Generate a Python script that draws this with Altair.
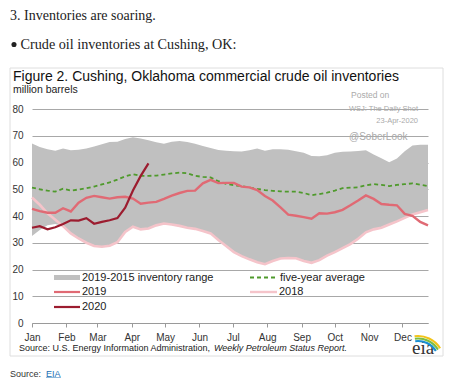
import altair as alt
import pandas as pd

# ---------------- data ----------------
weeks = list(range(52))

band_hi = [67.1, 65.8, 65.0, 64.4, 65.2, 64.6, 64.8, 65.2, 66.0, 66.8,
           67.7, 67.8, 68.8, 69.4, 69.0, 68.3, 67.6, 67.0, 67.8, 68.0,
           67.7, 67.0, 66.2, 65.4, 64.7, 64.4, 64.2, 64.1, 64.6, 65.2,
           64.4, 65.0, 65.0, 64.8, 64.2, 63.6, 62.4, 62.3, 62.7, 63.6,
           64.0, 64.1, 64.3, 64.6, 63.0, 61.6, 60.1, 61.5, 64.2, 66.4,
           66.6, 66.6]
band_lo = [32.5, 34.8, 36.5, 37.0, 36.2, 33.5, 31.6, 30.0, 28.8, 28.5,
           28.9, 30.2, 34.0, 36.0, 35.0, 35.3, 36.5, 37.2, 36.8, 36.3,
           35.6, 35.2, 34.4, 33.5, 31.0, 28.8, 26.5, 25.0, 23.8, 22.7,
           22.0, 23.2, 24.1, 24.3, 24.2, 23.2, 22.5, 23.5, 25.2, 26.5,
           28.0, 29.5, 31.5, 33.9, 35.0, 35.6, 36.8, 38.0, 39.3, 40.6,
           41.4, 42.2]
avg5 = [50.6, 50.0, 49.5, 49.1, 50.2, 49.5, 49.9, 50.4, 51.0, 51.8,
        52.6, 53.6, 54.8, 55.6, 55.0, 55.0, 55.1, 55.5, 55.9, 56.2,
        56.0, 55.0, 54.6, 54.4, 53.0, 52.0, 51.5, 51.2, 50.6, 50.1,
        49.7, 49.4, 49.2, 49.1, 49.1, 48.6, 47.8, 48.2, 48.7, 49.5,
        50.4, 50.6, 50.7, 51.5, 51.9, 51.6, 51.2, 51.6, 51.9, 52.2,
        51.7, 51.2]
y2019 = [42.7, 41.8, 41.2, 41.2, 42.9, 41.7, 45.0, 46.8, 47.5, 47.0,
         46.5, 47.0, 47.2, 46.5, 44.6, 45.0, 45.3, 46.4, 47.6, 48.6,
         49.4, 49.5, 52.2, 53.5, 52.3, 52.4, 52.4, 51.0, 50.7, 49.7,
         47.5, 45.8, 43.2, 40.5, 40.1, 39.6, 39.0, 41.0, 40.9, 41.4,
         42.3, 44.0, 45.8, 47.7, 46.4, 44.5, 44.2, 44.0, 40.8, 40.1,
         37.8, 36.5]
y2018 = [46.9, 44.2, 41.0, 38.6, 36.2, 33.5, 31.6, 30.0, 28.8, 28.5,
         28.9, 30.2, 34.0, 36.0, 35.0, 35.3, 36.5, 37.2, 36.8, 36.3,
         35.6, 35.2, 34.4, 33.5, 31.0, 28.8, 26.5, 25.0, 23.8, 22.7,
         22.0, 23.2, 24.1, 24.3, 24.2, 23.2, 22.5, 23.5, 25.2, 26.5,
         28.0, 29.5, 31.5, 33.9, 35.0, 35.6, 36.8, 38.0, 39.3, 40.6,
         41.4, 42.2]
weeks2020 = list(range(16))
y2020 = [35.6, 36.2, 35.0, 35.8, 37.0, 38.4, 38.3, 39.2, 37.1, 37.8,
         38.4, 39.2, 43.1, 49.5, 55.0, 59.7]

month_days = [0, 31, 59, 90, 120, 151, 181, 212, 243, 273, 304, 334]
y_ticks = [0, 10, 20, 30, 40, 50, 60, 70, 80]

legend_labels = ["2019-2015 inventory range", "five-year average", "2019", "2018", "2020"]

# ---------------- styling ----------------
SANS = "Liberation Sans"
SERIF = "Liberation Serif"
C_BAND = "#c0c0c0"
C_AVG = "#4f9a2c"
C_2019 = "#e06a74"
C_2018 = "#f5c4ca"
C_2020 = "#9c1c2f"
OX, OY = 32, 109  # plot origin on the page

band_df = pd.DataFrame({"week": weeks, "lo": band_lo, "hi": band_hi})

x_axis = alt.Axis(
    values=[d / 7 for d in month_days],
    labelExpr="timeFormat(datetime(2019, 0, 1 + round(datum.value * 7)), '%b')",
    title=None, grid=False, domain=True, domainColor="#9a9a9a",
    ticks=True, tickColor="#9a9a9a", tickSize=4, labelPadding=5,
    labelFont=SANS, labelFontSize=10, labelColor="#333333",
    labelOverlap=False, labelFlush=False,
)
x_scale = alt.Scale(domain=[0, 51], nice=False, zero=False)
y_scale = alt.Scale(domain=[0, 80], nice=False, zero=True)
y_axis = alt.Axis(
    values=y_ticks, title=None, grid=True, gridColor="#a8a8a8", gridWidth=1,
    domain=False, ticks=False, labelPadding=9, labelFont=SANS,
    labelFontSize=10, labelColor="#333333", labelOverlap=False,
    labelFlush=False,
)

band = alt.Chart(band_df).mark_area(color=C_BAND, opacity=1).encode(
    x=alt.X("week:Q", scale=x_scale, axis=x_axis),
    y=alt.Y("lo:Q", scale=y_scale, axis=y_axis),
    y2="hi:Q",
)


def line(vals, wks, color, width, dash=None):
    df = pd.DataFrame({"week": wks, "value": vals})
    kw = dict(color=color, strokeWidth=width, interpolate="linear")
    if dash:
        kw["strokeDash"] = dash
    return alt.Chart(df).mark_line(**kw).encode(
        x=alt.X("week:Q", scale=x_scale, axis=x_axis),
        y=alt.Y("value:Q", scale=y_scale, axis=y_axis),
    )


l2018 = line(y2018, weeks, C_2018, 2.6)
lavg = line(avg5, weeks, C_AVG, 1.8, [4, 3])
l2019 = line(y2019, weeks, C_2019, 2.4)
l2020 = line(y2020, weeks2020, C_2020, 2.2)


def txt(s, px, py, size, color="#222222", font=SANS, align="left",
        baseline="alphabetic", style="normal", weight="normal"):
    return alt.Chart(pd.DataFrame({"t": [s]})).mark_text(
        align=align, baseline=baseline, font=font, fontSize=size,
        color=color, fontStyle=style, fontWeight=weight,
    ).encode(x=alt.value(px - OX), y=alt.value(py - OY), text="t:N")


def hrule(x1, x2, py, color, width, dash=None):
    kw = dict(color=color, strokeWidth=width)
    if dash:
        kw["strokeDash"] = dash
    return alt.Chart(pd.DataFrame({"a": [0]})).mark_rule(**kw).encode(
        x=alt.value(x1 - OX), x2=alt.value(x2 - OX), y=alt.value(py - OY)
    )


frame = alt.Chart(pd.DataFrame({"a": [0]})).mark_rect(
    fillOpacity=0, stroke="#dedede", strokeWidth=1
).encode(
    x=alt.value(10 - OX), x2=alt.value(443 - OX),
    y=alt.value(68 - OY), y2=alt.value(356 - OY),
)

legend_swatch_band = alt.Chart(pd.DataFrame({"a": [0]})).mark_rect(color=C_BAND).encode(
    x=alt.value(54 - OX), x2=alt.value(80 - OX),
    y=alt.value(275 - OY), y2=alt.value(280 - OY),
)

legend = [
    legend_swatch_band,
    txt(legend_labels[0], 82, 277.5, 11, baseline="middle"),
    hrule(250, 277, 277.5, C_AVG, 1.8, [4, 3]),
    txt(legend_labels[1], 280, 277.5, 11, baseline="middle"),
    hrule(54, 80, 292, C_2019, 2.2),
    txt(legend_labels[2], 82, 292, 11, baseline="middle"),
    hrule(250, 277, 292, C_2018, 2.4),
    txt(legend_labels[3], 279, 292, 11, baseline="middle"),
    hrule(54, 80, 307, C_2020, 2.2),
    txt(legend_labels[4], 82, 307, 11, baseline="middle"),
]


def arc(r1, r2, color):
    return alt.Chart(pd.DataFrame({"a": [0]})).mark_arc(
        radius=r2, radius2=r1, theta=6.15, theta2=7.3, color=color
    ).encode(x=alt.value(418 - OX), y=alt.value(362 - OY))


bullet = alt.Chart(pd.DataFrame({"a": [0]})).mark_point(
    shape="circle", filled=True, size=26, color="#222222", opacity=1
).encode(x=alt.value(14 - OX), y=alt.value(44.5 - OY))

texts = [
    txt("3. Inventories are soaring.", 10, 20, 14, color="#222222", font=SERIF),
    txt("Crude oil inventories at Cushing, OK:", 20.5, 49, 14.2, color="#222222", font=SERIF),
    txt("Figure 2. Cushing, Oklahoma commercial crude oil inventories", 13, 81, 14, color="#111111"),
    txt("million barrels", 13, 93, 10.5, color="#222222"),
    txt("Posted on", 351, 95, 8.5, color="#aaaaaa", baseline="middle"),
    txt("WSJ: The Daily Shot", 418, 108.5, 7.5, color="#aaaaaa", align="right", baseline="middle"),
    txt("23-Apr-2020", 418, 121, 7.5, color="#aaaaaa", align="right", baseline="middle"),
    txt("@SoberLook", 349, 137, 10, color="#aaaaaa", baseline="middle"),
    txt("Source: U.S. Energy Information Administration, ", 19, 348, 9, color="#222222", baseline="middle"),
    txt("Weekly Petroleum Status Report.", 214, 348, 9, color="#222222", baseline="middle", style="italic"),
    txt("eia", 412, 354, 19, color="#333333", font=SERIF),
    txt("Source:", 10, 373.5, 9, color="#333333", baseline="middle"),
    txt("EIA", 46, 373.5, 9, color="#1a6fb5", baseline="middle"),
    hrule(46, 61, 378, "#1a6fb5", 1),
    arc(25, 27, "#f2c318"),
    arc(22.5, 24.5, "#7cbd42"),
    arc(20, 22, "#1a8fd0"),
]

chart = alt.layer(
    frame, band, l2018, lavg, l2019, l2020, *legend, bullet, *texts
).properties(
    width=396,
    height=214,
    padding={"left": 24, "top": 101, "right": 19, "bottom": 55},
    autosize=alt.AutoSizeParams(type="none"),
    background="white",
).configure_view(stroke=None)

chart.save("out.html", embed_options={"renderer": "svg", "actions": False})
